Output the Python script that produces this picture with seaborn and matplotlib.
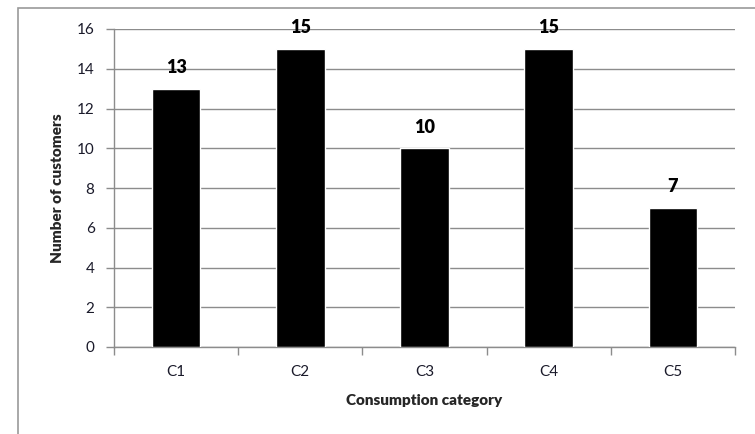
import pandas as pd
import seaborn as sns
import matplotlib.pyplot as plt
from matplotlib.patches import Rectangle

categories = ['C1', 'C2', 'C3', 'C4', 'C5']
customers = [13, 15, 10, 15, 7]

df = pd.DataFrame({'Consumption category': categories, 'Number of customers': customers})

sns.set_theme(style='white')
plt.rcParams['font.family'] = ['Lato', 'DejaVu Sans']

fig = plt.figure(figsize=(7.55, 4.34), dpi=100)
ax = fig.add_axes([114 / 755, 87 / 434, 621 / 755, 318 / 434])

sns.barplot(data=df, x='Consumption category', y='Number of customers',
            color='black', width=0.39, saturation=1, ax=ax, zorder=3)

grid_col = '#8c8c8c'
ax.set_ylim(0, 16)
ax.set_yticks(range(0, 17, 2))
ax.set_xlim(-0.5, len(categories) - 0.5)
ax.yaxis.grid(True, color=grid_col, linewidth=1, zorder=0)
ax.set_axisbelow(True)

for s in ['top', 'right']:
    ax.spines[s].set_visible(False)
for s in ['left', 'bottom']:
    ax.spines[s].set_color(grid_col)
    ax.spines[s].set_linewidth(1)

# category ticks sit between bars, as in Excel
ax.set_xticks([i - 0.5 for i in range(len(categories) + 1)], minor=False)
ax.set_xticklabels([])
ax.set_xticks(range(len(categories)), minor=True)
ax.set_xticklabels(categories, minor=True)
ax.tick_params(axis='x', which='major', length=6, color=grid_col, width=1, direction='out', bottom=True)
ax.tick_params(axis='x', which='minor', length=0, pad=13, labelsize=11, labelcolor='#1a1a2a')
ax.tick_params(axis='y', length=6, color=grid_col, width=1, direction='out', left=True,
               pad=8, labelsize=11, labelcolor='#1a1a2a')

for i, v in enumerate(customers):
    ax.annotate(str(v), (i, v), xytext=(0, 9), textcoords='offset points',
                ha='center', va='bottom', fontsize=13, fontweight='heavy', color='black')

ax.set_xlabel('Consumption category', fontsize=11, fontweight='heavy', labelpad=11)
ax.set_ylabel('Number of customers', fontsize=11, fontweight='heavy', labelpad=9)

# outer chart-area border (left and top edges visible)
fig.patches.append(Rectangle((18 / 755, -0.2), 1.2, 1.2 - 8 / 434,
                             transform=fig.transFigure, fill=False,
                             edgecolor='#9a9a9a', linewidth=1.2))

fig.savefig('out.png', dpi=100)
